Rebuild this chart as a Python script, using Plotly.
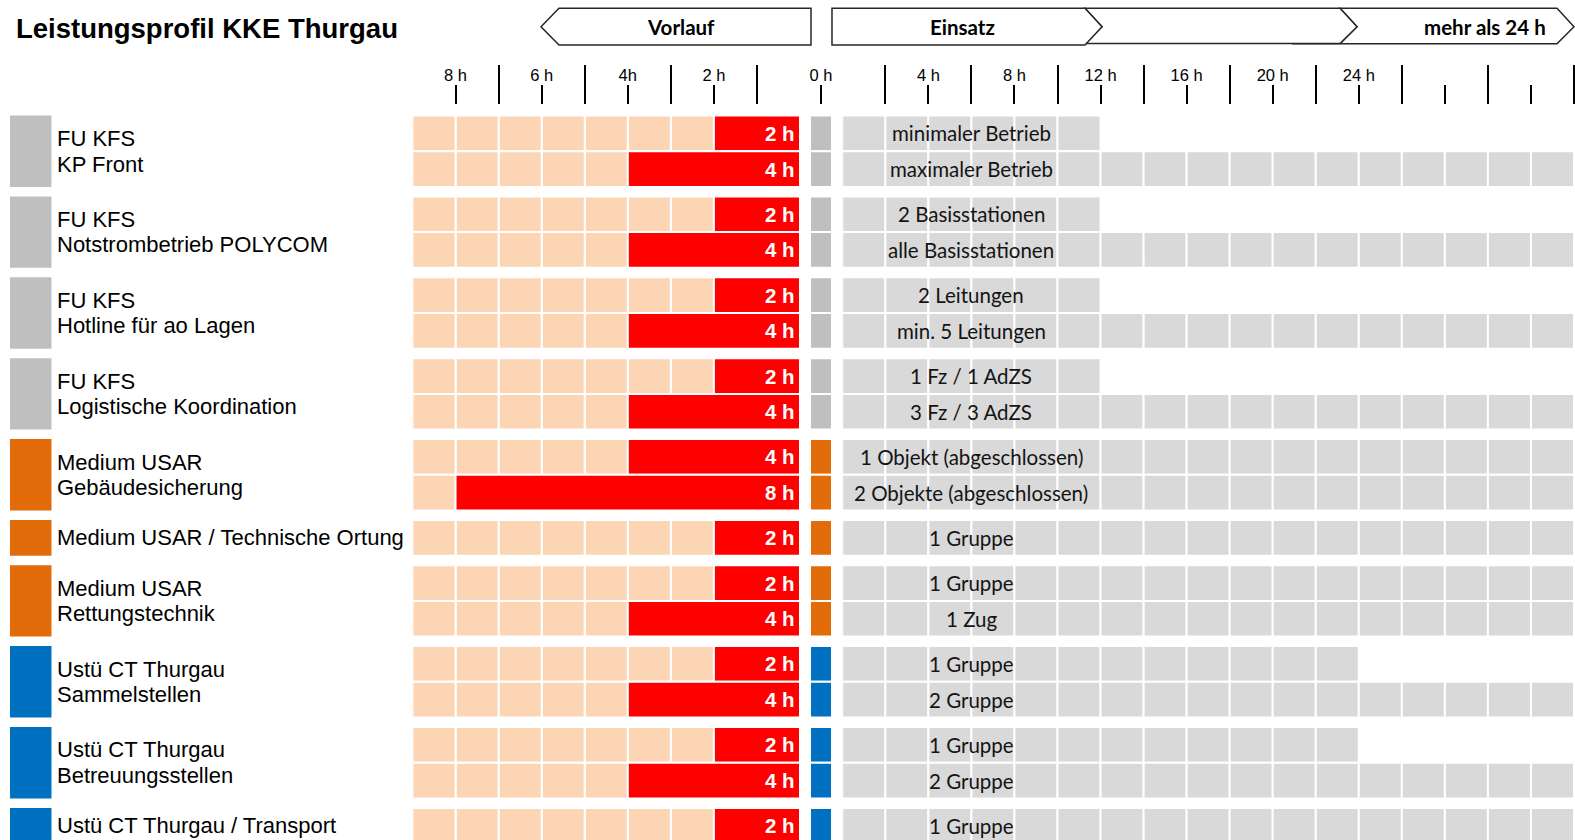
import plotly.graph_objects as go

# ---------------- data ----------------
group_line1 = ["FU KFS", "FU KFS", "FU KFS", "FU KFS", "Medium USAR",
               "Medium USAR / Technische Ortung", "Medium USAR",
               "Ustü CT Thurgau", "Ustü CT Thurgau", "Ustü CT Thurgau / Transport"]
group_line2 = ["KP Front", "Notstrombetrieb POLYCOM", "Hotline für ao Lagen",
               "Logistische Koordination", "Gebäudesicherung", "",
               "Rettungstechnik", "Sammelstellen", "Betreuungsstellen", ""]
group_category = ["FU", "FU", "FU", "FU", "USAR", "USAR", "USAR", "CT", "CT", "CT"]
group_rows = [2, 2, 2, 2, 2, 1, 2, 2, 2, 1]

row_vorlauf_h = [2, 4, 2, 4, 2, 4, 2, 4, 4, 8, 2, 2, 4, 2, 4, 2, 4, 2]
row_einsatz_h = [12, 34, 12, 34, 12, 34, 12, 34, 34, 34, 34, 34, 34, 24, 34, 24, 34, 34]
row_einsatz_label = ["minimaler Betrieb", "maximaler Betrieb",
                     "2 Basisstationen", "alle Basisstationen",
                     "2 Leitungen", "min. 5 Leitungen",
                     "1 Fz / 1 AdZS", "3 Fz / 3 AdZS",
                     "1 Objekt (abgeschlossen)", "2 Objekte (abgeschlossen)",
                     "1 Gruppe",
                     "1 Gruppe", "1 Zug",
                     "1 Gruppe", "2 Gruppe",
                     "1 Gruppe", "2 Gruppe",
                     "1 Gruppe"]

vorlauf_span = 9           # hours shown in Vorlauf part
einsatz_span = 34          # hours shown in Einsatz part
vorlauf_major = [8, 6, 4, 2]
vorlauf_major_text = ["8 h", "6 h", "4h", "2 h"]
vorlauf_minor = [7, 5, 3, 1]
einsatz_major = [4, 8, 12, 16, 20, 24, 28, 32]
einsatz_major_text = ["4 h", "8 h", "12 h", "16 h", "20 h", "24 h", "", ""]
einsatz_minor = [2, 6, 10, 14, 18, 22, 26, 30, 34]

title = "Leistungsprofil KKE Thurgau"
phase_labels = ["Vorlauf", "Einsatz", "mehr als 24 h"]

# ---------------- styles ----------------
W, H = 1575, 840
cat_color = {"FU": "#BFBFBF", "USAR": "#E26B0A", "CT": "#0070C0"}
PEACH = "#FCD5B4"
RED = "#FF0000"
GREY = "#D9D9D9"
ARIAL = "Liberation Sans, Arial, sans-serif"
CALIBRI = "Lato, Carlito, Calibri, sans-serif"

def px(p):
    return p / W

def py(p):
    return 1 - p / H

# ---------------- row geometry (y units: one sub-row = 1) ----------------
GAP = 9.5 / 35.7
row_center, row_group = [], []
group_center = []
pos = 0.0
for gi, n in enumerate(group_rows):
    group_center.append(pos + n / 2)
    for k in range(n):
        row_center.append(pos + 0.5 + k)
        row_group.append(gi)
    pos += n + GAP
row_color = [cat_color[group_category[g]] for g in row_group]

y_top = -10.5 / 35.7
y_bottom = (840 - 115.5) / 35.7

fig = go.Figure()
cell_line = dict(color="white", width=2)

# Vorlauf background cells
vy, vx, vb = [], [], []
for c in row_center:
    for h in range(vorlauf_span):
        vy.append(c); vx.append(1); vb.append(h)
fig.add_trace(go.Bar(orientation="h", y=vy, x=vx, base=vb, width=1,
                     marker=dict(color=PEACH, line=cell_line),
                     xaxis="x", yaxis="y", hoverinfo="skip", showlegend=False))
# Vorlauf red bars
fig.add_trace(go.Bar(orientation="h", y=row_center, x=row_vorlauf_h, base=0, width=1,
                     marker=dict(color=RED, line=cell_line),
                     xaxis="x", yaxis="y", hoverinfo="skip", showlegend=False))
# category column at 0 h
fig.add_trace(go.Bar(orientation="h", y=row_center, x=[1] * len(row_center), base=0, width=1,
                     marker=dict(color=row_color, line=cell_line),
                     xaxis="x2", yaxis="y", hoverinfo="skip", showlegend=False))
# Einsatz cells (2 h each)
ey, ex, eb = [], [], []
for c, hrs in zip(row_center, row_einsatz_h):
    for k in range(0, hrs, 2):
        ey.append(c); ex.append(2); eb.append(k)
fig.add_trace(go.Bar(orientation="h", y=ey, x=ex, base=eb, width=1,
                     marker=dict(color=GREY, line=cell_line),
                     xaxis="x3", yaxis="y", hoverinfo="skip", showlegend=False))
# left category blocks
fig.add_trace(go.Bar(orientation="h", y=group_center, x=[1] * len(group_center), base=0,
                     width=group_rows,
                     marker=dict(color=[cat_color[c] for c in group_category],
                                 line=dict(width=0)),
                     xaxis="x4", yaxis="y", hoverinfo="skip", showlegend=False))

ann = []
LBL = dict(family=ARIAL, size=22, color="black")
# group labels
for gc, l1, l2 in zip(group_center, group_line1, group_line2):
    if l2:
        ann.append(dict(x=px(54.5), xref="paper", y=gc, yref="y", yshift=12.8, text=l1,
                        xanchor="left", yanchor="middle", showarrow=False, font=LBL))
        ann.append(dict(x=px(54.5), xref="paper", y=gc, yref="y", yshift=-12.8, text=l2,
                        xanchor="left", yanchor="middle", showarrow=False, font=LBL))
    else:
        ann.append(dict(x=px(54.5), xref="paper", y=gc, yref="y", text=l1,
                        xanchor="left", yanchor="middle", showarrow=False, font=LBL))
# red bar labels
for c, h in zip(row_center, row_vorlauf_h):
    ann.append(dict(x=0, xref="x", y=c, yref="y", xshift=-3, text=f"{h} h",
                    xanchor="right", yanchor="middle", showarrow=False,
                    font=dict(family=ARIAL, size=20.5, color="white", weight="bold")))
# Einsatz labels
for c, t in zip(row_center, row_einsatz_label):
    ann.append(dict(x=6, xref="x3", y=c, yref="y", text=t,
                    xanchor="center", yanchor="middle", showarrow=False,
                    font=dict(family=CALIBRI, size=20.5, color="#141414")))
# title
ann.append(dict(x=px(14), xref="paper", y=py(28.5), yref="paper", text=title,
                xanchor="left", yanchor="middle", showarrow=False,
                font=dict(family=ARIAL, size=27.5, color="black", weight="bold")))
# phase banners text
BAN = dict(family=CALIBRI, size=20.5, color="black", weight="bold")
ann.append(dict(x=px(681), xref="paper", y=py(27), yref="paper", text=phase_labels[0],
                xanchor="center", yanchor="middle", showarrow=False, font=BAN))
ann.append(dict(x=px(962), xref="paper", y=py(27), yref="paper", text=phase_labels[1],
                xanchor="center", yanchor="middle", showarrow=False, font=BAN))
ann.append(dict(x=px(1548), xref="paper", y=py(27), yref="paper", text=phase_labels[2],
                xanchor="right", yanchor="middle", showarrow=False, font=BAN))

def path(points):
    s = "M " + " L ".join(f"{px(a):.5f},{py(b):.5f}" for a, b in points) + " Z"
    return s

bline = dict(color="#262626", width=1.5)
shapes = [
    dict(type="path", xref="paper", yref="paper", fillcolor="white", line=bline,
         path=path([(1340, 8.3), (1557, 8.3), (1574, 26.7), (1557, 43.7), (1292, 43.7), (1340, 43.7), (1357, 26.7)])),
    dict(type="path", xref="paper", yref="paper", fillcolor="white", line=bline,
         path=path([(1085, 8.3), (1340, 8.3), (1357, 26.7), (1340, 43.5), (1085, 43.5), (1102, 26.7)])),
    dict(type="path", xref="paper", yref="paper", fillcolor="white", line=bline,
         path=path([(832, 8.3), (1085, 8.3), (1102, 26.7), (1085, 45), (832, 45)])),
    dict(type="path", xref="paper", yref="paper", fillcolor="white", line=bline,
         path=path([(541, 26.7), (559, 8.3), (811, 8.3), (811, 45), (559, 45)])),
]

tickfont = dict(family=ARIAL, size=16.5, color="black")
common = dict(showgrid=False, zeroline=False, showline=False, side="top", anchor="y",
              ticks="outside", ticklen=19, tickwidth=1.5, tickcolor="black",
              tickfont=tickfont, fixedrange=True, ticklabelstandoff=-3)
ydom_top = (840 - 105) / 840

fig.update_layout(
    width=W, height=H,
    margin=dict(l=0, r=0, t=0, b=0),
    paper_bgcolor="white", plot_bgcolor="rgba(0,0,0,0)",
    barmode="overlay", showlegend=False,
    xaxis=dict(domain=[px(412.5), px(800)], range=[vorlauf_span, 0],
               tickmode="array", tickvals=vorlauf_major, ticktext=vorlauf_major_text,
               minor=dict(tickmode="array", tickvals=vorlauf_minor, ticks="outside",
                          ticklen=39, tickwidth=1.5, tickcolor="black", showgrid=False),
               **common),
    xaxis2=dict(domain=[px(810), px(832)], range=[0, 1],
                tickmode="array", tickvals=[0.5], ticktext=["0 h"], **common),
    xaxis3=dict(domain=[px(842.3), px(1574)], range=[0, einsatz_span],
                tickmode="array", tickvals=einsatz_major, ticktext=einsatz_major_text,
                minor=dict(tickmode="array", tickvals=einsatz_minor, ticks="outside",
                           ticklen=39, tickwidth=1.5, tickcolor="black", showgrid=False),
                **common),
    xaxis4=dict(domain=[px(10), px(51.7)], range=[0, 1], visible=False, anchor="y",
                fixedrange=True),
    yaxis=dict(domain=[0, ydom_top], range=[y_bottom, y_top], visible=False,
               fixedrange=True),
    annotations=ann,
    shapes=shapes,
)

fig.write_html("out.html", config={"displayModeBar": False},
               post_script="document.body.style.margin='0';document.body.style.overflow='hidden';")
